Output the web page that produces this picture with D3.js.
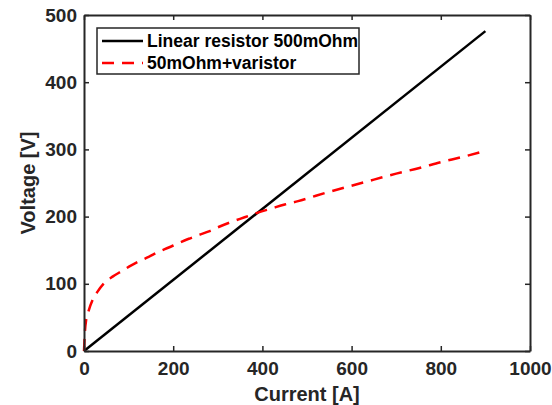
<!DOCTYPE html>
<html>
<head>
<meta charset="utf-8">
<script src="https://cdn.jsdelivr.net/npm/d3@7"></script>
<style>
  body { margin: 0; background: #fff; }
  text { font-family: Arial, "Liberation Sans", sans-serif; font-weight: bold; }
</style>
</head>
<body>
<div id="viz"></div>
<script>
const width = 552;
const height = 405;
const margin = {top: 15, right: 22, bottom: 54, left: 84};
const axisColor = '#262626';

// series: linear resistor
const linCurrent = [0, 900];
const linVoltage = [0, 476];

// series: 50mOhm + varistor
const varCurrent = [0, 2, 5, 10, 20, 30, 45, 65, 85, 105, 125, 145, 165, 190, 210, 235, 255, 280, 300, 330, 360, 390, 420, 450, 480, 510, 540, 600, 650, 700, 750, 800, 850, 900];
const varVoltage = [0, 28, 47, 59, 77, 88, 101, 111, 119, 127, 134, 140, 147, 154, 160, 167, 172, 178, 184, 192, 199, 206, 212, 218, 223, 229, 235, 246, 255, 264, 272, 281, 289, 298];

const xTicks = [0, 200, 400, 600, 800, 1000];
const yTicks = [0, 100, 200, 300, 400, 500];
const seriesNames = ['Linear resistor 500mOhm', '50mOhm+varistor'];

let xScale = d3.scaleLinear()
  .domain([0, 1000])
  .range([margin.left, width - margin.right]);

let yScale = d3.scaleLinear()
  .domain([0, 500])
  .range([height - margin.bottom, margin.top]);

let svg = d3.select('#viz')
  .append('svg')
    .attr('width', width)
    .attr('height', height);

let lineGenerator = d3.line()
  .x(d => xScale(d[0]))
  .y(d => yScale(d[1]))
  .curve(d3.curveMonotoneX);

svg.append('path')
  .attr('d', lineGenerator(d3.zip(linCurrent, linVoltage)))
  .attr('fill', 'none')
  .attr('stroke', '#000')
  .attr('stroke-width', 2.5);

svg.append('path')
  .attr('d', lineGenerator(d3.zip(varCurrent, varVoltage)))
  .attr('fill', 'none')
  .attr('stroke', '#ff0000')
  .attr('stroke-width', 2.5)
  .attr('stroke-dasharray', '12,8');

// axes, ticks inside, box on all four sides
const tickLen = 5;
function styleAxis(g) {
  g.select('.domain').attr('stroke', axisColor).attr('stroke-width', 2);
  g.selectAll('.tick line').attr('stroke', axisColor).attr('stroke-width', 1.5);
  g.selectAll('.tick text')
    .attr('fill', axisColor)
    .style('font-size', '19px')
    .style('font-family', 'Arial, "Liberation Sans", sans-serif')
    .style('font-weight', 'bold');
}

svg.append('g')
  .attr('transform', `translate(0, ${height - margin.bottom})`)
  .call(d3.axisBottom(xScale).tickValues(xTicks).tickFormat(d3.format('d'))
    .tickSizeInner(-tickLen).tickSizeOuter(0).tickPadding(11))
  .call(styleAxis);

svg.append('g')
  .attr('transform', `translate(0, ${margin.top})`)
  .call(d3.axisTop(xScale).tickValues(xTicks).tickSizeInner(-tickLen).tickSizeOuter(0).tickFormat(''))
  .call(styleAxis);

svg.append('g')
  .attr('transform', `translate(${margin.left}, 0)`)
  .call(d3.axisLeft(yScale).tickValues(yTicks).tickFormat(d3.format('d'))
    .tickSizeInner(-tickLen).tickSizeOuter(0).tickPadding(7))
  .call(styleAxis);

svg.append('g')
  .attr('transform', `translate(${width - margin.right}, 0)`)
  .call(d3.axisRight(yScale).tickValues(yTicks).tickSizeInner(-tickLen).tickSizeOuter(0).tickFormat(''))
  .call(styleAxis);

// axis labels
svg.append('text')
  .attr('text-anchor', 'middle')
  .attr('x', (margin.left + width - margin.right) / 2)
  .attr('y', 401)
  .attr('fill', axisColor)
  .style('font-size', '20px')
  .text('Current [A]');

svg.append('text')
  .attr('text-anchor', 'middle')
  .attr('transform', `translate(35, ${(margin.top + height - margin.bottom) / 2}) rotate(-90)`)
  .attr('fill', axisColor)
  .style('font-size', '20px')
  .text('Voltage [V]');

// legend
let legend = svg.append('g');
legend.append('rect')
  .attr('x', 97)
  .attr('y', 28)
  .attr('width', 262)
  .attr('height', 46)
  .attr('fill', '#fff')
  .attr('stroke', axisColor)
  .attr('stroke-width', 1.5);

const legendStyles = [
  {stroke: '#000', dash: null, width: 2.5},
  {stroke: '#ff0000', dash: '12,8', width: 2.5}
];

seriesNames.forEach((name, i) => {
  let y = 41 + i * 22;
  legend.append('line')
    .attr('x1', 102).attr('x2', 143)
    .attr('y1', y).attr('y2', y)
    .attr('stroke', legendStyles[i].stroke)
    .attr('stroke-width', legendStyles[i].width)
    .attr('stroke-dasharray', legendStyles[i].dash);
  legend.append('text')
    .attr('x', 147)
    .attr('y', y + 6)
    .attr('fill', '#000')
    .style('font-size', '17.5px')
    .text(name);
});
</script>
</body>
</html>
